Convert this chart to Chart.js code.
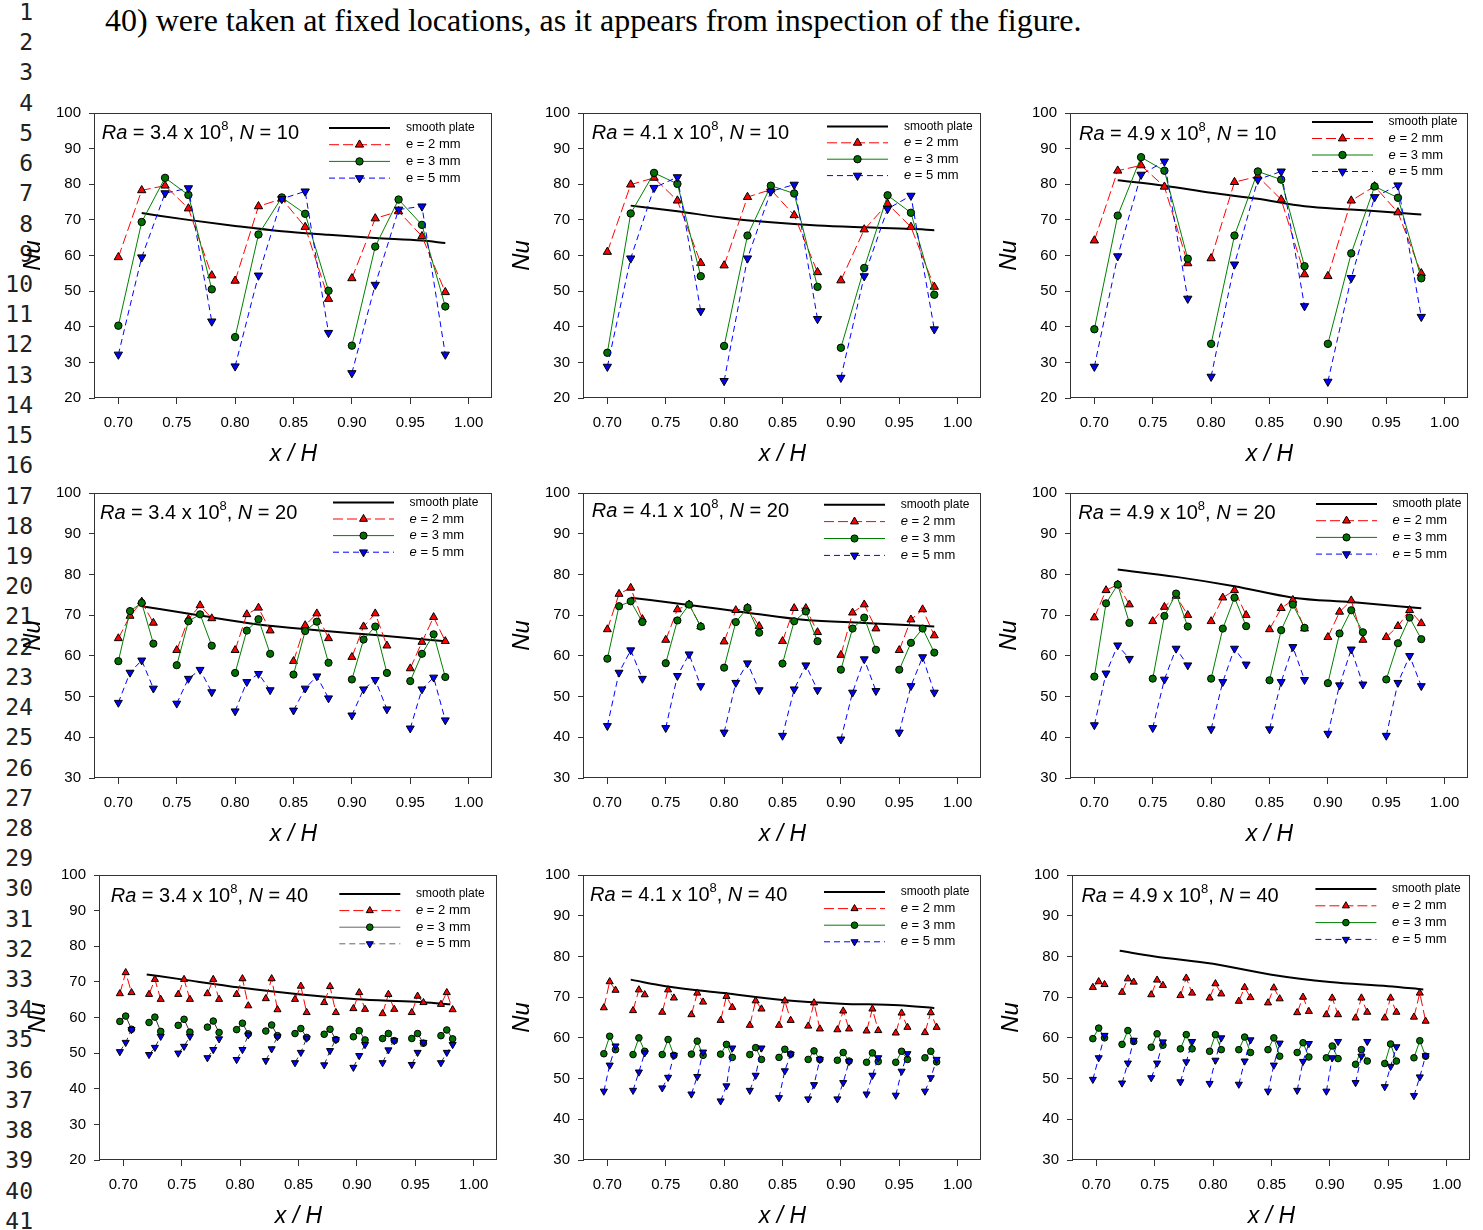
<!DOCTYPE html>
<html><head><meta charset="utf-8">
<script src="https://cdn.jsdelivr.net/npm/chart.js@4.4.1/dist/chart.umd.min.js"></script>
<style>
html,body{margin:0;padding:0;background:#fff;}
body{width:1483px;height:1230px;overflow:hidden;position:relative;}
.ln{position:absolute;left:0;width:33px;text-align:right;font-family:"DejaVu Sans Mono",monospace;font-size:23px;line-height:30px;color:#222;}
#top{position:absolute;left:105px;top:3px;font-family:"Liberation Serif","Times New Roman",serif;font-size:32px;line-height:34px;color:#000;white-space:nowrap;}
canvas{position:absolute;}
</style></head><body>
<div id="top">40) were taken at fixed locations, as it appears from inspection of the figure.</div>
<script>
// ---------- tick labels ----------
const xTickVals = [0.70, 0.75, 0.80, 0.85, 0.90, 0.95, 1.00];
const yTicks20 = [20, 30, 40, 50, 60, 70, 80, 90, 100];
const yTicks30 = [30, 40, 50, 60, 70, 80, 90, 100];
const raLabels = ['3.4', '4.1', '4.9'];
const nLabels = ['10', '20', '40'];
const seriesLabels = ['smooth plate', 'e = 2 mm', 'e = 3 mm', 'e = 5 mm'];

// ---------- x positions ----------
const xN10 = [0.70,0.72,0.74,0.76,0.78, 0.80,0.82,0.84,0.86,0.88, 0.90,0.92,0.94,0.96,0.98];
const xN20 = [0.70,0.71,0.72,0.73, 0.75,0.76,0.77,0.78, 0.80,0.81,0.82,0.83, 0.85,0.86,0.87,0.88, 0.90,0.91,0.92,0.93, 0.95,0.96,0.97,0.98];
const xN40 = [0.697,0.702,0.707, 0.722,0.727,0.732, 0.747,0.752,0.757, 0.772,0.777,0.782, 0.797,0.802,0.807, 0.822,0.827,0.832, 0.847,0.852,0.857, 0.872,0.877,0.882, 0.897,0.902,0.907, 0.922,0.927,0.932, 0.947,0.952,0.957, 0.972,0.977,0.982];
const smoothX_N10 = [0.72,0.76,0.80,0.84,0.88,0.92,0.96,0.98];
const smoothX_N20 = [0.72,0.77,0.82,0.87,0.92,0.98];
const smoothX_N40 = [0.72,0.75,0.80,0.85,0.90,0.95,0.98];

// ---------- N = 10 ----------
const p1_smooth = [71.9,70.0,68.3,66.8,65.8,64.9,64.2,63.5];
const p1_e2 = [59.5,78.3,79.6,73.2,54.4, 52.9,73.8,75.9,68.0,47.8, 53.6,70.4,72.4,65.4,49.7];
const p1_e3 = [40.3,69.4,81.8,77.0,50.5, 37.1,65.9,76.3,71.7,50.1, 34.7,62.5,75.7,68.6,45.7];
const p1_e5 = [32.2,59.5,77.5,78.9,41.5, 28.9,54.4,75.9,78.0,38.3, 27.0,51.8,72.9,73.8,32.2];

const p2_smooth = [74.0,72.4,70.6,69.3,68.4,67.9,67.5,67.1];
const p2_e2 = [61.0,79.9,81.8,75.4,57.9, 57.2,76.4,78.5,71.3,55.3, 53.0,67.3,74.5,68.0,51.2];
const p2_e3 = [32.7,71.8,83.2,80.1,54.2, 34.6,65.6,79.6,77.4,51.2, 34.1,56.5,76.9,72.0,49.0];
const p2_e5 = [28.8,59.2,79.0,82.0,44.4, 24.8,59.2,78.0,79.9,42.2, 25.7,54.2,73.1,76.8,39.3];

const p3_smooth = [81.1,79.6,77.6,75.9,73.8,72.9,72.0,71.5];
const p3_e2 = [64.2,83.8,85.3,79.3,57.8, 59.2,80.6,82.2,75.7,54.7, 54.2,75.4,79.4,72.1,55.0];
const p3_e3 = [39.3,71.2,87.6,83.8,59.1, 35.2,65.6,83.6,81.3,57.0, 35.2,60.6,79.4,76.2,53.6];
const p3_e5 = [28.8,59.8,82.7,86.4,47.9, 26.0,57.5,81.3,83.6,45.8, 24.6,53.7,76.4,79.7,42.8];

// ---------- N = 20 ----------
const p4_smooth = [72.2,69.9,67.7,66.3,65.1,63.6];
const p4_e2 = [64.3,69.8,73.3,68.1, 61.4,69.0,72.4,69.2, 61.4,70.2,71.8,66.2, 58.7,67.5,70.4,64.3, 59.7,67.2,70.4,62.5, 56.9,63.4,69.5,63.6];
const p4_e3 = [58.7,71.0,73.0,63.0, 57.7,68.5,70.2,62.5, 55.8,66.2,69.0,60.5, 55.4,66.1,68.4,58.3, 54.2,64.0,67.2,55.8, 53.8,60.5,65.3,54.8];
const p4_e5 = [48.5,55.9,58.9,52.0, 48.3,54.4,56.6,51.1, 46.4,53.6,55.6,51.6, 46.6,52.0,55.0,49.6, 45.4,51.8,54.1,46.9, 42.2,51.8,54.7,44.2];

const p5_smooth = [74.3,72.5,70.6,68.8,68.1,67.2];
const p5_e2 = [66.5,75.2,76.7,69.0, 63.9,71.4,72.6,67.2, 63.5,71.2,71.8,67.3, 63.6,71.7,71.7,65.8, 60.2,70.6,72.6,66.7, 61.4,68.9,71.4,65.0];
const p5_e3 = [59.3,72.2,73.4,68.3, 58.2,68.7,72.6,67.2, 57.1,68.3,71.8,65.7, 58.1,68.5,70.9,63.6, 56.6,66.7,69.4,61.5, 56.6,63.2,66.7,60.8];
const p5_e5 = [42.8,55.9,61.4,54.4, 42.3,55.1,60.4,52.6, 41.2,53.4,58.2,51.6, 40.4,51.8,57.7,51.6, 39.5,51.0,59.2,51.4, 41.2,52.6,59.7,51.0];

const p6_smooth = [81.2,79.4,77.1,74.3,73.2,71.7];
const p6_e2 = [69.4,76.1,77.5,72.6, 68.5,72.0,74.7,70.0, 68.5,74.3,76.1,70.0, 66.5,71.7,73.7,66.7, 64.6,70.8,73.6,63.9, 64.6,67.3,71.2,68.0];
const p6_e3 = [54.9,72.9,77.5,68.1, 54.4,69.8,75.3,67.2, 54.4,66.7,74.3,67.3, 54.0,66.3,72.6,66.9, 53.3,65.5,71.2,65.8, 54.2,63.1,69.4,64.1];
const p6_e5 = [43.0,55.7,62.6,59.3, 42.3,54.2,61.8,57.7, 42.0,53.6,61.8,57.9, 42.0,53.6,62.2,54.1, 40.9,52.8,61.6,53.0, 40.4,53.4,60.0,52.6];

// ---------- N = 40 ----------
const p7_smooth = [72.1,70.7,68.4,66.5,65.1,64.4,63.7];
const p7_e2 = [66.7,72.6,67.0, 66.5,70.7,65.1, 66.5,70.7,65.1, 66.7,70.7,65.1, 66.5,70.9,63.3, 65.3,70.9,62.2, 65.1,68.8,61.4, 64.2,68.7,61.4, 62.5,67.0,62.3, 61.1,66.5,62.3, 61.4,66.0,64.2, 63.7,67.0,62.2];
const p7_e3 = [58.9,60.4,56.7, 58.6,60.1,56.1, 57.8,59.5,55.9, 57.3,59.0,55.8, 56.6,58.4,55.4, 56.2,57.9,54.9, 55.5,56.9,54.4, 55.3,56.7,53.8, 54.6,56.3,53.7, 54.1,55.5,53.5, 54.1,55.5,52.8, 54.9,56.5,54.0];
const p7_e5 = [50.4,53.0,56.6, 49.6,51.6,54.7, 50.0,51.9,54.7, 48.7,51.0,54.0, 48.2,51.0,55.1, 47.9,51.2,54.6, 47.3,50.2,54.2, 46.7,50.7,53.8, 46.0,49.3,52.4, 47.3,50.9,53.5, 46.8,50.2,53.0, 47.3,50.2,52.4];

const p8_smooth = [74.3,72.7,71.0,69.3,68.4,68.0,67.3];
const p8_e2 = [67.4,73.8,71.7, 66.7,71.8,70.6, 66.3,71.8,69.8, 65.7,71.0,68.8, 64.3,70.2,67.5, 63.1,69.1,67.1, 63.1,69.1,64.3, 62.9,68.6,62.2, 62.0,66.6,62.2, 61.7,67.1,61.8, 61.2,66.1,62.6, 61.3,66.2,62.6];
const p8_e3 = [56.1,60.4,57.1, 55.9,60.0,56.7, 55.9,59.6,55.7, 56.0,59.2,55.7, 56.0,58.4,55.2, 55.9,57.6,54.7, 55.2,57.2,56.0, 54.7,56.8,54.7, 54.5,56.4,54.3, 54.0,56.3,54.2, 54.0,56.7,54.7, 55.1,56.7,54.1];
const p8_e5 = [46.9,53.3,58.0, 47.1,51.6,56.3, 47.7,50.3,55.7, 46.2,50.5,56.5, 44.5,48.2,57.5, 47.1,50.8,57.5, 45.3,51.9,56.0, 45.0,48.5,54.7, 45.0,49.0,54.2, 46.2,50.8,55.1, 45.9,51.8,56.1, 46.9,50.2,54.7];

const p9_smooth = [81.4,80.0,78.2,75.5,73.7,72.7,71.9];
const p9_e2 = [72.4,73.8,73.1, 71.2,74.5,73.7, 70.6,74.2,72.9, 70.4,74.7,71.0, 69.8,73.3,70.8, 69.0,72.4,69.9, 68.6,72.3,69.6, 66.2,70.0,66.5, 65.7,69.8,65.7, 64.9,69.8,66.3, 64.9,69.8,66.3, 65.1,71.0,64.1];
const p9_e3 = [59.8,62.4,60.0, 58.4,61.8,59.1, 57.7,61.0,58.2, 57.3,60.8,57.3, 56.7,60.8,57.1, 57.1,60.2,56.4, 57.1,60.0,55.5, 56.4,58.8,55.3, 55.1,58.0,54.9, 53.5,57.1,54.3, 53.7,58.5,54.3, 55.1,59.3,55.5];
const p9_e5 = [49.8,55.1,60.6, 48.9,53.8,59.4, 50.2,53.8,59.0, 49.2,54.1,59.1, 48.8,54.5,60.0, 48.6,54.3,59.5, 46.9,53.3,58.7, 47.1,54.2,58.6, 46.9,55.1,59.1, 49.0,55.5,59.1, 48.0,53.0,57.8, 45.8,50.4,55.6];

// ---------- line numbers ----------
for (let n = 1; n <= 41; n++) {
  const d = document.createElement('div');
  d.className = 'ln';
  d.textContent = String(n);
  d.style.top = (12 + (n - 1) * 30.22 - 15) + 'px';
  document.body.appendChild(d);
}

const FONT = "'Liberation Sans', Arial, Helvetica, sans-serif";
Chart.defaults.font.family = FONT;
Chart.defaults.color = '#000';

function drawMarker(ctx, style, x, y, r, rotDeg) {
  ctx.beginPath();
  if (style === 'circle') {
    ctx.arc(x, y, r, 0, Math.PI * 2);
  } else {
    let rad = rotDeg * Math.PI / 180;
    for (let k = 0; k < 3; k++) {
      const px = x + Math.sin(rad) * r, py = y - Math.cos(rad) * r;
      if (k === 0) ctx.moveTo(px, py); else ctx.lineTo(px, py);
      rad += 2 * Math.PI / 3;
    }
    ctx.closePath();
  }
  ctx.fill();
  ctx.stroke();
}

const panelDeco = {
  id: 'panelDeco',
  afterDatasetsDraw(chart, args, o) {
    const ctx = chart.ctx, a = chart.chartArea;
    ctx.save();
    // frame
    ctx.strokeStyle = '#333'; ctx.lineWidth = 1; ctx.setLineDash([]);
    ctx.strokeRect(Math.round(a.left) - 0.5, Math.round(a.top) + 0.5, Math.round(a.right - a.left), Math.round(a.bottom - a.top) - 1);
    // annotation
    let x = a.left + o.ann[0];
    const y = a.top + o.ann[1];
    ctx.fillStyle = '#000'; ctx.textBaseline = 'middle'; ctx.textAlign = 'left';
    const parts = [['italic 20px', 'Ra', 0], ['20px', ' = ' + o.ra + ' x 10', 0], ['13px', '8', -7], ['20px', ', ', 0], ['italic 20px', 'N', 0], ['20px', ' = ' + o.n, 0]];
    for (const p of parts) {
      ctx.font = p[0] + ' ' + FONT;
      ctx.fillText(p[1], x, y + p[2]);
      x += ctx.measureText(p[1]).width;
    }
    // legend
    const L = o.leg;
    o.items.forEach((it, i) => {
      const yy = a.top + L[2] + i * L[3];
      const x0 = a.left + L[0], x1 = x0 + 61;
      ctx.beginPath();
      ctx.setLineDash(it.dash); ctx.strokeStyle = it.line; ctx.lineWidth = it.lw;
      ctx.moveTo(x0, yy); ctx.lineTo(x1, yy); ctx.stroke();
      ctx.setLineDash([]);
      if (it.marker) {
        ctx.fillStyle = it.fill; ctx.strokeStyle = '#000'; ctx.lineWidth = 1;
        drawMarker(ctx, it.marker, (x0 + x1) / 2, yy, it.r, it.rot);
      }
      ctx.fillStyle = '#000';
      let tx = a.left + L[1];
      if (i === 0) {
        ctx.font = '12px ' + FONT;
        ctx.fillText(it.label, tx, yy);
      } else {
        ctx.font = (o.eItalic ? 'italic ' : '') + '13px ' + FONT;
        ctx.fillText('e', tx, yy);
        tx += ctx.measureText('e').width;
        ctx.font = '13px ' + FONT;
        ctx.fillText(it.label.slice(1), tx, yy);
      }
    });
    ctx.restore();
  }
};

const panels = [
  {pos:[0,93],   yMin:20, yt:yTicks20, xs:xN10, g:5, sx:smoothX_N10, s:p1_smooth, e2:p1_e2, e3:p1_e3, e5:p1_e5, ra:raLabels[0], n:nLabels[0], ann:[6.7,20], leg:[234,311,15,16.7], eItalic:false, dark:false, mr:[4.8,3.7]},
  {pos:[489,93], yMin:20, yt:yTicks20, xs:xN10, g:5, sx:smoothX_N10, s:p2_smooth, e2:p2_e2, e3:p2_e3, e5:p2_e5, ra:raLabels[1], n:nLabels[0], ann:[7.7,20], leg:[243,320,13.4,16.4], eItalic:true, dark:false, mr:[4.8,3.7]},
  {pos:[976,93], yMin:20, yt:yTicks20, xs:xN10, g:5, sx:smoothX_N10, s:p3_smooth, e2:p3_e2, e3:p3_e3, e5:p3_e5, ra:raLabels[2], n:nLabels[0], ann:[8,21.7], leg:[241,317.6,9,16.5], eItalic:true, dark:false, mr:[4.8,3.7]},
  {pos:[0,473],  yMin:30, yt:yTicks30, xs:xN20, g:4, sx:smoothX_N20, s:p4_smooth, e2:p4_e2, e3:p4_e3, e5:p4_e5, ra:raLabels[0], n:nLabels[1], ann:[5,20], leg:[238,314.6,9.4,16.6], eItalic:true, dark:false, mr:[4.6,3.6]},
  {pos:[489,473],yMin:30, yt:yTicks30, xs:xN20, g:4, sx:smoothX_N20, s:p5_smooth, e2:p5_e2, e3:p5_e3, e5:p5_e5, ra:raLabels[1], n:nLabels[1], ann:[7.7,18.7], leg:[240,316.7,11.7,16.9], eItalic:true, dark:false, mr:[4.6,3.6]},
  {pos:[976,473],yMin:30, yt:yTicks30, xs:xN20, g:4, sx:smoothX_N20, s:p6_smooth, e2:p6_e2, e3:p6_e3, e5:p6_e5, ra:raLabels[2], n:nLabels[1], ann:[7.3,20], leg:[245,321.6,11,16.7], eItalic:true, dark:false, mr:[4.6,3.6]},
  {pos:[5,855],  yMin:20, yt:yTicks20, xs:xN40, g:3, sx:smoothX_N40, s:p7_smooth, e2:p7_e2, e3:p7_e3, e5:p7_e5, ra:raLabels[0], n:nLabels[2], ann:[10.7,21.7], leg:[239.3,316,19,16.6], eItalic:true, dark:true, mr:[4.1,3.3]},
  {pos:[489,855],yMin:30, yt:yTicks30, xs:xN40, g:3, sx:smoothX_N40, s:p8_smooth, e2:p8_e2, e3:p8_e3, e5:p8_e5, ra:raLabels[1], n:nLabels[2], ann:[6,20], leg:[240,316.7,17,16.6], eItalic:true, dark:false, mr:[4.1,3.3]},
  {pos:[978,855],yMin:30, yt:yTicks30, xs:xN40, g:3, sx:smoothX_N40, s:p9_smooth, e2:p9_e2, e3:p9_e3, e5:p9_e5, ra:raLabels[2], n:nLabels[2], ann:[8.4,21.7], leg:[242.4,319,14,16.8], eItalic:true, dark:false, mr:[4.1,3.3]}
];

function pts(xs, ys, g) {
  const out = [];
  ys.forEach((v, i) => {
    if (g && i > 0 && i % g === 0) out.push({x: xs[i], y: null});
    out.push({x: xs[i], y: v});
  });
  return out;
}

const W = 504, H = 385;
panels.forEach(p => {
  const cv = document.createElement('canvas');
  cv.width = W; cv.height = H;
  cv.style.left = p.pos[0] + 'px'; cv.style.top = p.pos[1] + 'px';
  cv.style.width = W + 'px'; cv.style.height = H + 'px';
  document.body.appendChild(cv);
  const greenLine = p.dark ? '#333' : '#008000';
  const blueLine = p.dark ? '#333' : '#0000ff';
  const tri = p.mr[0], circ = p.mr[1];
  const items = [
    {label: seriesLabels[0], line: '#000', lw: 2, dash: [], marker: null},
    {label: seriesLabels[1], line: '#ff0000', lw: 1, dash: [10, 4], marker: 'triangle', fill: '#ff0000', r: tri, rot: 0},
    {label: seriesLabels[2], line: p.dark ? '#666' : '#008000', lw: 1, dash: [], marker: 'circle', fill: '#007000', r: circ, rot: 0},
    {label: seriesLabels[3], line: p.dark ? '#666' : '#0000ff', lw: 1, dash: [6, 4], marker: 'triangle', fill: '#0000ff', r: tri, rot: 180}
  ];
  new Chart(cv, {
    type: 'scatter',
    data: {datasets: [
      {label: seriesLabels[0], data: pts(p.sx, p.s, 0), showLine: true, borderColor: '#000', borderWidth: 2, pointRadius: 0, cubicInterpolationMode: 'monotone', order: 4},
      {label: seriesLabels[1], data: pts(p.xs, p.e2, p.g), showLine: true, spanGaps: false, borderColor: '#ff0000', borderWidth: 1, borderDash: [10, 4],
       pointStyle: 'triangle', pointRadius: tri, pointBackgroundColor: '#ff0000', pointBorderColor: '#000', pointBorderWidth: 1, order: 3},
      {label: seriesLabels[2], data: pts(p.xs, p.e3, p.g), showLine: true, spanGaps: false, borderColor: greenLine, borderWidth: 1,
       pointStyle: 'circle', pointRadius: circ, pointBackgroundColor: '#007000', pointBorderColor: '#000', pointBorderWidth: 1, order: 2},
      {label: seriesLabels[3], data: pts(p.xs, p.e5, p.g), showLine: true, spanGaps: false, borderColor: blueLine, borderWidth: 1, borderDash: [6, 4],
       pointStyle: 'triangle', pointRotation: 180, pointRadius: tri, pointBackgroundColor: '#0000ff', pointBorderColor: '#000', pointBorderWidth: 1, order: 1}
    ]},
    options: {
      responsive: false, animation: false, devicePixelRatio: 1, events: [],
      layout: {autoPadding: false, padding: {left: 0, top: 20, right: 12, bottom: 0}},
      plugins: {
        legend: {display: false}, tooltip: {enabled: false},
        panelDeco: {ann: p.ann, ra: p.ra, n: p.n, leg: p.leg, items: items, eItalic: p.eItalic}
      },
      scales: {
        x: {
          type: 'linear', min: 0.68, max: 1.02,
          afterFit: s => { s.height = 80; },
          afterBuildTicks: s => { s.ticks = xTickVals.map(v => ({value: v})); },
          border: {display: false},
          grid: {drawOnChartArea: false, drawTicks: true, tickLength: 6, color: '#333'},
          ticks: {font: {size: 15}, color: '#000', padding: 10, maxRotation: 0, autoSkip: false, callback: v => Number(v).toFixed(2)},
          title: {display: true, text: 'x / H', font: {size: 23, style: 'italic'}, color: '#000', padding: {top: 0, bottom: 10}}
        },
        y: {
          type: 'linear', min: p.yMin, max: 100,
          afterFit: s => { s.width = 95; },
          afterBuildTicks: s => { s.ticks = p.yt.map(v => ({value: v})); },
          border: {display: false},
          grid: {drawOnChartArea: false, drawTicks: true, tickLength: 6, color: '#333'},
          ticks: {font: {size: 15}, color: '#000', padding: 8, autoSkip: false, callback: v => String(v)},
          title: {display: true, text: 'Nu', font: {size: 24, style: 'italic'}, color: '#000', padding: {top: 19, bottom: 0}}
        }
      }
    },
    plugins: [panelDeco]
  });
});
</script>
</body></html>
